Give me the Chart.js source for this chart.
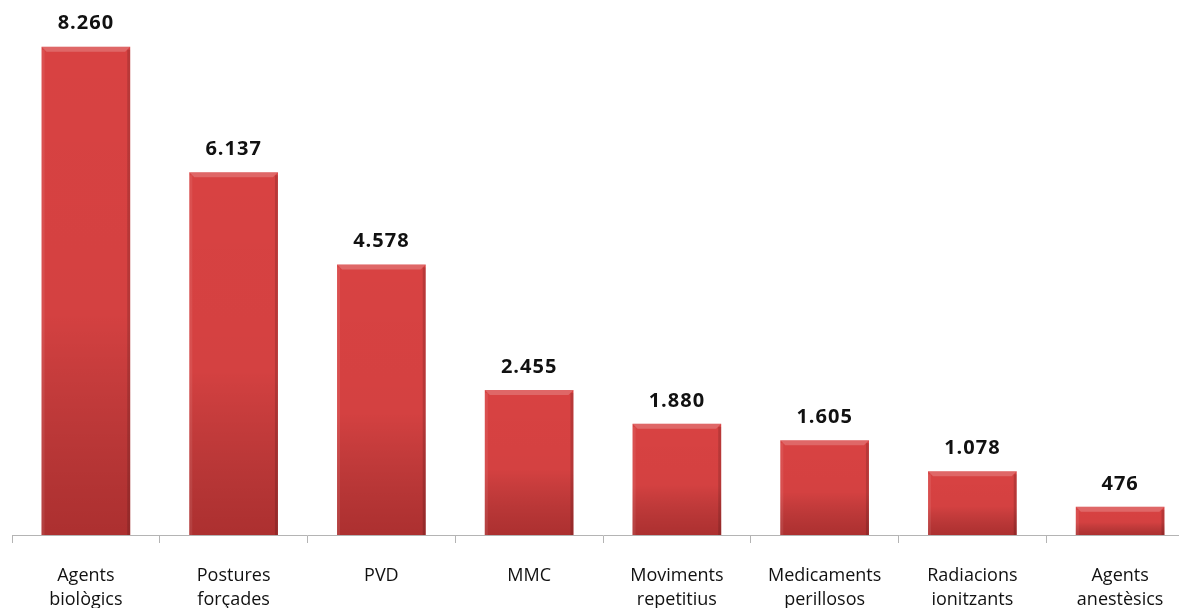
<!DOCTYPE html>
<html>
<head>
<meta charset="utf-8">
<script src="https://cdn.jsdelivr.net/npm/chart.js@4/dist/chart.umd.min.js"></script>
<style>
  html, body { margin: 0; padding: 0; background: #fff; overflow: hidden; }
  #wrap { width: 1194px; height: 633px; }
</style>
</head>
<body>
<div id="wrap"><canvas id="risks"></canvas></div>
<script>
const categories = [
    ['Agents', 'biològics'],
    ['Postures', 'forçades'],
    'PVD',
    'MMC',
    ['Moviments', 'repetitius'],
    ['Medicaments', 'perillosos'],
    ['Radiacions', 'ionitzants'],
    ['Agents', 'anestèsics']
];
const workers = [8260, 6137, 4578, 2455, 1880, 1605, 1078, 476];
const valueLabels = ['8.260', '6.137', '4.578', '2.455', '1.880', '1.605', '1.078', '476'];

// per-bar shading, bevel on the top edge and the value labels
const barDecor = {
    id: 'barDecor',
    afterDatasetsDraw(chart) {
        const ctx = chart.ctx;
        const meta = chart.getDatasetMeta(0);
        meta.data.forEach((bar, i) => {
            const left = bar.x - bar.width / 2;
            const right = bar.x + bar.width / 2;
            const top = bar.y;
            const h = bar.base - top;
            const b = 5;
            ctx.save();
            const g = ctx.createLinearGradient(0, top, 0, bar.base);
            g.addColorStop(0, 'rgba(0,0,0,0)');
            g.addColorStop(0.55, 'rgba(0,0,0,0.02)');
            g.addColorStop(1, 'rgba(60,0,0,0.28)');
            ctx.fillStyle = g;
            ctx.fillRect(left, top, bar.width, h);

            ctx.fillStyle = 'rgba(255,255,255,0.2)';
            ctx.beginPath();
            ctx.moveTo(left, top);
            ctx.lineTo(right, top);
            ctx.lineTo(right - b, top + b);
            ctx.lineTo(left + b, top + b);
            ctx.closePath();
            ctx.fill();
            ctx.fillStyle = 'rgba(0,0,0,0.14)';
            ctx.fillRect(right - 3, top + 3, 3, h - 3);
            ctx.fillStyle = 'rgba(255,255,255,0.08)';
            ctx.fillRect(left, top + 3, 3, h - 3);

            ctx.fillStyle = '#111';
            ctx.font = 'bold 20px "Open Sans"';
            ctx.letterSpacing = '1px';
            ctx.textAlign = 'center';
            ctx.textBaseline = 'middle';
            ctx.fillText(valueLabels[i], bar.x, top - 23);
            ctx.restore();
        });
    }
};

const ctx1 = document.getElementById('risks').getContext('2d');
const risks = new Chart(ctx1, {
    type: 'bar',
    data: {
        labels: categories,
        datasets: [{
            data: workers,
            backgroundColor: '#d84242',
            borderWidth: 0,
            barPercentage: 0.6,
            categoryPercentage: 1
        }]
    },
    options: {
        responsive: true,
        maintainAspectRatio: false,
        animation: false,
        layout: { padding: { left: 12, right: 0, top: 3, bottom: 0 } },
        plugins: {
            legend: { display: false },
            tooltip: { enabled: false }
        },
        scales: {
            x: {
                offset: true,
                grid: {
                    offset: true,
                    drawOnChartArea: false,
                    drawTicks: true,
                    tickLength: 8,
                    color: '#b4b4b4'
                },
                border: { display: true, color: '#b4b4b4', width: 1 },
                ticks: {
                    color: '#111',
                    padding: 21,
                    maxRotation: 0,
                    autoSkip: false,
                    font: { family: 'Open Sans', size: 18, lineHeight: '24px' }
                }
            },
            y: {
                display: false,
                min: 0,
                max: 9000
            }
        }
    },
    plugins: [barDecor]
});
</script>
</body>
</html>
